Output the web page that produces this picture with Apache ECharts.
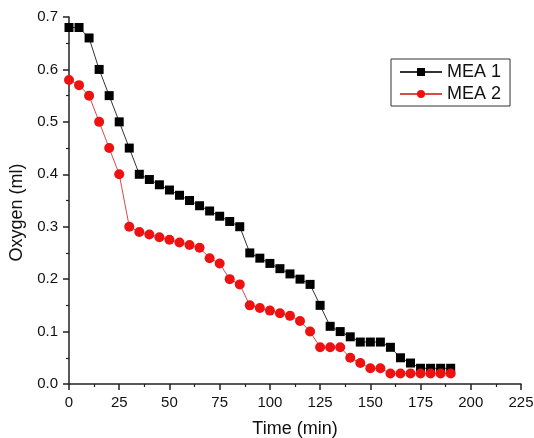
<!DOCTYPE html>
<html>
<head>
<meta charset="utf-8">
<script src="https://cdn.jsdelivr.net/npm/echarts@6/dist/echarts.min.js"></script>
<style>
  html, body { margin: 0; padding: 0; background: #fff; }
  #chart { width: 534px; height: 438px; }
</style>
</head>
<body>
<div id="chart"></div>
<script>
// Sampling times (min)
const timeMin = [0, 5, 10, 15, 20, 25, 30, 35, 40, 45, 50, 55, 60, 65, 70, 75, 80, 85, 90, 95,
  100, 105, 110, 115, 120, 125, 130, 135, 140, 145, 150, 155, 160, 165, 170, 175, 180, 185, 190];

// Oxygen volume (ml)
const mea1 = [0.68, 0.68, 0.66, 0.60, 0.55, 0.50, 0.45, 0.40, 0.39, 0.38, 0.37, 0.36, 0.35, 0.34,
  0.33, 0.32, 0.31, 0.30, 0.25, 0.24, 0.23, 0.22, 0.21, 0.20, 0.19, 0.15, 0.11, 0.10, 0.09,
  0.08, 0.08, 0.08, 0.07, 0.05, 0.04, 0.03, 0.03, 0.03, 0.03];
const mea2 = [0.58, 0.57, 0.55, 0.50, 0.45, 0.40, 0.30, 0.29, 0.285, 0.28, 0.275, 0.27, 0.265,
  0.26, 0.24, 0.23, 0.20, 0.19, 0.15, 0.145, 0.14, 0.135, 0.13, 0.12, 0.10, 0.07, 0.07, 0.07,
  0.05, 0.04, 0.03, 0.03, 0.02, 0.02, 0.02, 0.02, 0.02, 0.02, 0.02];

const seriesNames = ['MEA 1', 'MEA 2'];

const pairs = (ys) => timeMin.map((t, i) => [t, ys[i]]);

const font = 'Liberation Sans, Arial, sans-serif';
const axisColor = '#222';

const chart = echarts.init(document.getElementById('chart'));
chart.setOption({
  animation: false,
  backgroundColor: '#fff',
  grid: { left: 69, right: 13, top: 17, bottom: 54, containLabel: false, outerBoundsMode: 'none' },
  legend: {
    data: seriesNames,
    orient: 'vertical',
    left: 391,
    top: 59,
    itemWidth: 42,
    itemHeight: 10,
    itemGap: 4,
    padding: [4, 9, 3, 8],
    borderColor: '#333',
    borderWidth: 1,
    textStyle: { fontFamily: font, fontSize: 18, color: '#111' }
  },
  xAxis: {
    type: 'value',
    min: 0, max: 225, interval: 25,
    name: 'Time (min)',
    nameLocation: 'middle',
    nameGap: 36,
    nameTextStyle: { fontFamily: font, fontSize: 18, color: '#111' },
    axisLine: { show: true, onZero: false, lineStyle: { color: axisColor, width: 1.5 } },
    axisTick: { show: true, inside: false, length: 6, lineStyle: { color: axisColor, width: 1.5 } },
    minorTick: { show: true, splitNumber: 2, length: 3, lineStyle: { color: axisColor, width: 1.2 } },
    axisLabel: { fontFamily: font, fontSize: 15, color: '#111', margin: 11 },
    splitLine: { show: false }
  },
  yAxis: {
    type: 'value',
    min: 0, max: 0.7, interval: 0.1,
    name: 'Oxygen (ml)',
    nameLocation: 'middle',
    nameGap: 39,
    nameTextStyle: { fontFamily: font, fontSize: 18, color: '#111', padding: [0, 24, 0, 0] },
    axisLine: { show: true, onZero: false, lineStyle: { color: axisColor, width: 1.5 } },
    axisTick: { show: true, inside: false, length: 6, lineStyle: { color: axisColor, width: 1.5 } },
    minorTick: { show: true, splitNumber: 2, length: 3, lineStyle: { color: axisColor, width: 1.2 } },
    axisLabel: {
      fontFamily: font, fontSize: 15, color: '#111', margin: 11,
      formatter: (v) => v.toFixed(1)
    },
    splitLine: { show: false }
  },
  series: [
    {
      name: seriesNames[0],
      type: 'line',
      data: pairs(mea1),
      symbol: 'rect',
      symbolSize: 9,
      itemStyle: { color: '#000' },
      lineStyle: { color: '#333', width: 1 },
      clip: true
    },
    {
      name: seriesNames[1],
      type: 'line',
      data: pairs(mea2),
      symbol: 'circle',
      symbolSize: 10,
      itemStyle: { color: '#ee1111' },
      lineStyle: { color: '#d94a4a', width: 1 },
      clip: true
    }
  ]
});
</script>
</body>
</html>
